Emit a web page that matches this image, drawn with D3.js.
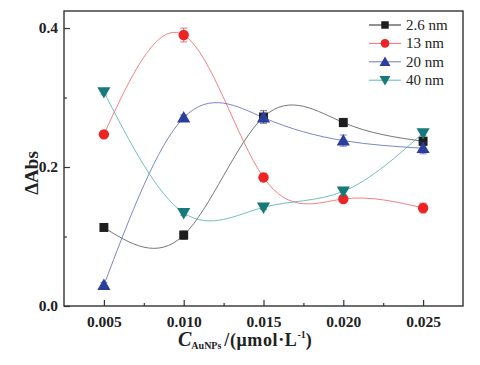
<!DOCTYPE html>
<html><head><meta charset="utf-8">
<script src="https://cdn.jsdelivr.net/npm/d3@7"></script>
<style>body{margin:0;background:#fff}svg{display:block}</style>
</head><body>
<script>
const concentrations = [0.005, 0.010, 0.015, 0.020, 0.025];
const s26 = [0.113, 0.102, 0.272, 0.264, 0.237];
const e26 = [0.005, 0.006, 0.009, 0.006, 0.006];
const s13 = [0.247, 0.390, 0.185, 0.154, 0.141];
const e13 = [0.004, 0.010, 0.006, 0.004, 0.007];
const s20 = [0.030, 0.271, 0.271, 0.238, 0.227];
const e20 = [0.004, 0.004, 0.006, 0.008, 0.008];
const s40 = [0.308, 0.134, 0.142, 0.165, 0.249];
const e40 = [0.004, 0.004, 0.003, 0.005, 0.004];
const seriesNames = ["2.6 nm", "13 nm", "20 nm", "40 nm"];
const xTicks = [0.005, 0.010, 0.015, 0.020, 0.025];
const xMinor = [0.0075, 0.0125, 0.0175, 0.0225];
const yTicks = [0.0, 0.2, 0.4];
const yMinor = [0.1, 0.3];

const W = 480, H = 365;
const L = 64, R = 463, T = 11, B = 306;
const svg = d3.select("body").append("svg").attr("width", W).attr("height", H);
const x = d3.scaleLinear().domain([0.0025, 0.0275]).range([L, R]);
const y = d3.scaleLinear().domain([0, 0.4245]).range([B, T]);

const series = [
  {name: seriesNames[0], vals: s26, err: e26, color: "#1e1e1e", line: "#666", sym: d3.symbolSquare, size: 80, rot: 0},
  {name: seriesNames[1], vals: s13, err: e13, color: "#ee2424", line: "#f27070", sym: d3.symbolCircle, size: 85, rot: 0},
  {name: seriesNames[2], vals: s20, err: e20, color: "#2c3e9c", line: "#6a78c6", sym: d3.symbolTriangle, size: 75, rot: 0},
  {name: seriesNames[3], vals: s40, err: e40, color: "#16797a", line: "#62b7b4", sym: d3.symbolTriangle, size: 75, rot: 180}
];

const font = "'Liberation Serif','Times New Roman',serif";

const gx = svg.append("g").attr("transform", `translate(0,${B})`)
  .call(d3.axisBottom(x).tickValues(xTicks).tickSize(-6).tickPadding(10).tickFormat(d3.format(".3f")));
const gxm = svg.append("g").attr("transform", `translate(0,${B})`)
  .call(d3.axisBottom(x).tickValues(xMinor).tickSize(-3).tickFormat(""));
const gy = svg.append("g").attr("transform", `translate(${L},0)`)
  .call(d3.axisLeft(y).tickValues(yTicks).tickSize(-6).tickPadding(6).tickFormat(d3.format(".1f")));
const gym = svg.append("g").attr("transform", `translate(${L},0)`)
  .call(d3.axisLeft(y).tickValues(yMinor).tickSize(-3).tickFormat(""));
[gx, gxm, gy, gym].forEach(g => {
  g.select(".domain").remove();
  g.selectAll("line").attr("stroke", "#333").attr("stroke-width", 1.2);
  g.selectAll("text").attr("font-family", font).attr("font-weight", "bold").attr("font-size", 15.5).attr("fill", "#222");
});

svg.append("rect").attr("x", L).attr("y", T).attr("width", R - L).attr("height", B - T)
  .attr("fill", "none").attr("stroke", "#333").attr("stroke-width", 1.4);

const lineGen = d3.line().x((d, i) => x(concentrations[i])).y(d => y(d)).curve(d3.curveNatural);
series.forEach(s => {
  svg.append("path").attr("d", lineGen(s.vals)).attr("fill", "none")
    .attr("stroke", s.line).attr("stroke-width", 0.9);
});

series.forEach(s => {
  const g = svg.append("g");
  s.vals.forEach((v, i) => {
    const cx = x(concentrations[i]);
    const y1 = y(v + s.err[i]), y2 = y(v - s.err[i]);
    g.append("line").attr("x1", cx).attr("x2", cx).attr("y1", y1).attr("y2", y2).attr("stroke", s.color).attr("stroke-width", 0.9).attr("opacity", 0.7);
    [y1, y2].forEach(yy => g.append("line").attr("x1", cx - 3.5).attr("x2", cx + 3.5).attr("y1", yy).attr("y2", yy).attr("stroke", s.color).attr("stroke-width", 0.9).attr("opacity", 0.7));
    g.append("path").attr("d", d3.symbol().type(s.sym).size(s.size)())
      .attr("transform", `translate(${cx},${y(v) + (s.sym === d3.symbolTriangle ? (s.rot ? -1 : 1) : 0)}) rotate(${s.rot})`)
      .attr("fill", s.color);
  });
});

series.forEach((s, i) => {
  const ly = 25 + i * 18.4;
  svg.append("line").attr("x1", 369).attr("x2", 401).attr("y1", ly).attr("y2", ly)
    .attr("stroke", i === 0 ? "#222" : s.line).attr("stroke-width", 1);
  svg.append("path").attr("d", d3.symbol().type(s.sym).size(s.size * 0.7)())
    .attr("transform", `translate(385,${ly + (s.sym === d3.symbolTriangle ? (s.rot ? -1 : 1) : 0)}) rotate(${s.rot})`).attr("fill", s.color);
  svg.append("text").attr("x", 406).attr("y", ly + 5).text(s.name)
    .attr("font-family", font).attr("font-size", 15).attr("fill", "#222");
});

svg.append("text").attr("transform", "translate(38,173) rotate(-90)").attr("text-anchor", "middle")
  .attr("font-family", font).attr("font-weight", "bold").attr("font-size", 19).attr("fill", "#222").text("ΔAbs");

const xl = svg.append("text").attr("x", 178).attr("y", 346).attr("font-family", font).attr("fill", "#222");
xl.append("tspan").attr("font-style", "italic").attr("font-weight", "bold").attr("font-size", 20).text("C");
xl.append("tspan").attr("font-size", 10).attr("font-weight", "bold").attr("dy", 3).text("AuNPs");
xl.append("tspan").attr("font-size", 18).attr("font-weight", "bold").attr("dy", -3).attr("dx", 3).attr("letter-spacing", 0.6).text("/(μmol·L");
xl.append("tspan").attr("font-size", 10).attr("font-weight", "bold").attr("dy", -8).text("-1");
xl.append("tspan").attr("font-size", 18).attr("font-weight", "bold").attr("dy", 8).text(")");
</script>
</body></html>
